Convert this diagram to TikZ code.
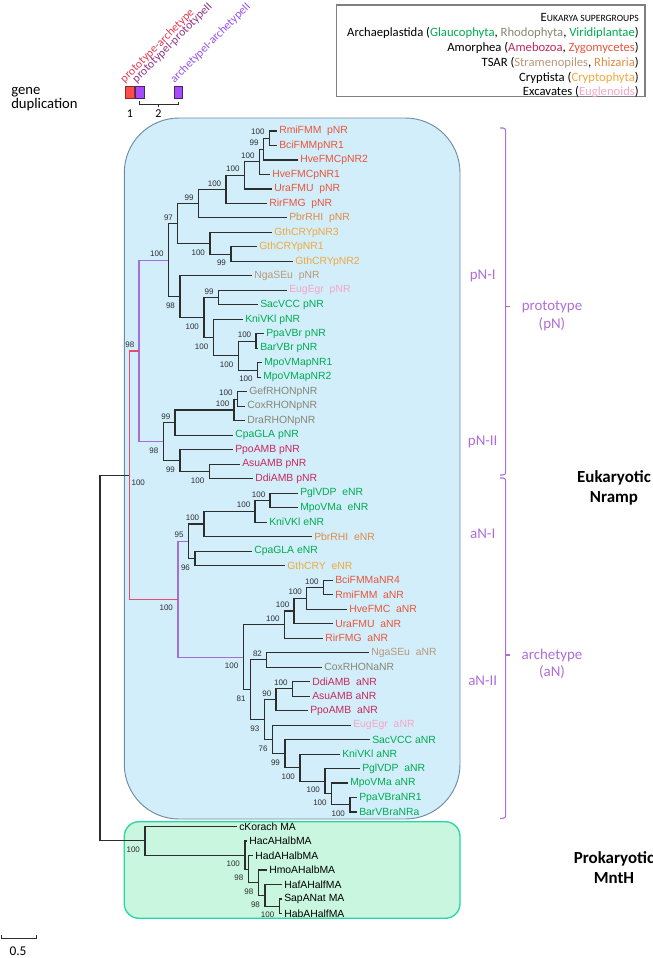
\documentclass[tikz,border=0pt]{standalone}
\usepackage{fontspec}
\setmainfont{Liberation Sans}
\newfontfamily\carl{Carlito}
\definecolor{treeline}{RGB}{45,45,45}
\definecolor{zygc}{RGB}{232,85,58}
\definecolor{rhizc}{RGB}{222,140,70}
\definecolor{crypc}{RGB}{240,168,60}
\definecolor{stramc}{RGB}{185,152,122}
\definecolor{eugc}{RGB}{245,165,200}
\definecolor{viric}{RGB}{0,170,80}
\definecolor{rhodc}{RGB}{135,135,115}
\definecolor{amoec}{RGB}{200,40,90}
\definecolor{dupred}{RGB}{232,75,105}
\definecolor{duppur}{RGB}{165,110,215}
\definecolor{brackc}{RGB}{175,110,215}
\definecolor{bluefill}{RGB}{210,238,251}
\definecolor{blueline}{RGB}{110,140,160}
\definecolor{greenfill}{RGB}{200,246,222}
\definecolor{greenline}{RGB}{40,215,165}
\definecolor{boxred}{RGB}{255,75,75}
\definecolor{boxpur}{RGB}{165,75,250}
\definecolor{txtred}{RGB}{225,60,80}
\definecolor{txtmag}{RGB}{140,50,130}
\definecolor{txtvio}{RGB}{150,80,240}
\usetikzlibrary{positioning}
\begin{document}
\begin{tikzpicture}[x=0.75pt,y=-0.75pt,
  tree/.style={draw=treeline,line width=0.8pt,line join=miter},
  elbow/.style={to path={|- (\tikztotarget)}},
  leaf/.style={anchor=west,inner sep=1.5pt,font=\fontsize{7.8}{9}\selectfont},
  bs/.style={inner sep=0pt,text=treeline,font=\fontsize{6}{7}\selectfont},
  bsa/.style={bs,anchor=south east,xshift=-3.4pt,yshift=2.3pt},
  bsb/.style={bs,anchor=north east,xshift=-3.6pt,yshift=-4.4pt},
  brk/.style={draw=brackc,line width=0.8pt,rounded corners=2pt},
  sub/.style={text=brackc,font=\carl\fontsize{11.2}{13}\selectfont},
  grp/.style={font=\carl\bfseries\fontsize{12.7}{15}\selectfont,align=center},
  leg/.style={anchor=east,inner sep=0pt,font=\carl\fontsize{9.5}{11}\selectfont},
  dupbox/.style={draw,line width=0.6pt,minimum width=6.3pt,minimum height=9.5pt,inner sep=0pt},
  duptxt/.style={rotate=45,anchor=south west,inner sep=0pt,font=\carl\fontsize{8.8}{10}\selectfont}]
  \useasboundingbox (0,0) rectangle (653,958);

  % boxes behind the tree
  \draw[fill=bluefill,draw=blueline,line width=0.7pt,rounded corners=41pt] (124.3,118) rectangle (460,819);
  \draw[fill=greenfill,draw=greenline,line width=1pt,rounded corners=11pt] (124.3,821.7) rectangle (460,918.3);

  % leaves
  \node[leaf,zygc] (l1) at (277,131.0) {RmiFMM\ \ pNR};
  \node[leaf,zygc] (l2) at (277,145.5) {BciFMMpNR1};
  \node[leaf,zygc] (l3) at (298,160.0) {HveFMCpNR2};
  \node[leaf,zygc] (l4) at (270,174.5) {HveFMCpNR1};
  \node[leaf,zygc] (l5) at (272,189.0) {UraFMU\ \ pNR};
  \node[leaf,zygc] (l6) at (267,203.5) {RirFMG\ \ pNR};
  \node[leaf,rhizc] (l7) at (287,217.9) {PbrRHI\ \ pNR};
  \node[leaf,crypc] (l8) at (272,232.4) {GthCRYpNR3};
  \node[leaf,crypc] (l9) at (257,246.9) {GthCRYpNR1};
  \node[leaf,crypc] (l10) at (293,261.4) {GthCRYpNR2};
  \node[leaf,stramc] (l11) at (252,275.9) {NgaSEu\ \ pNR};
  \node[leaf,eugc] (l12) at (287,290.4) {EugEgr\ \ pNR};
  \node[leaf,viric] (l13) at (258,304.9) {SacVCC pNR};
  \node[leaf,viric] (l14) at (243,319.4) {KniVKl pNR};
  \node[leaf,viric] (l15) at (264,333.9) {PpaVBr pNR};
  \node[leaf,viric] (l16) at (258,348.4) {BarVBr pNR};
  \node[leaf,viric] (l17) at (262,362.8) {MpoVMapNR1};
  \node[leaf,viric] (l18) at (261,377.3) {MpoVMapNR2};
  \node[leaf,rhodc] (l19) at (247,391.8) {GefRHONpNR};
  \node[leaf,rhodc] (l20) at (245,406.3) {CoxRHONpNR};
  \node[leaf,rhodc] (l21) at (245,420.8) {DraRHONpNR};
  \node[leaf,viric] (l22) at (233,435.3) {CpaGLA pNR};
  \node[leaf,amoec] (l23) at (233,449.8) {PpoAMB pNR};
  \node[leaf,amoec] (l24) at (240,464.3) {AsuAMB pNR};
  \node[leaf,amoec] (l25) at (253,478.8) {DdiAMB pNR};
  \node[leaf,viric] (l26) at (298,493.2) {PglVDP\ \ eNR};
  \node[leaf,viric] (l27) at (298,507.7) {MpoVMa\ \ eNR};
  \node[leaf,viric] (l28) at (267,522.2) {KniVKl eNR};
  \node[leaf,rhizc] (l29) at (312,536.7) {PbrRHI\ \ eNR};
  \node[leaf,viric] (l30) at (252,551.2) {CpaGLA eNR};
  \node[leaf,crypc] (l31) at (285,565.7) {GthCRY\ \ eNR};
  \node[leaf,zygc] (l32) at (333,580.2) {BciFMMaNR4};
  \node[leaf,zygc] (l33) at (333,594.7) {RmiFMM\ \ aNR};
  \node[leaf,zygc] (l34) at (347,609.2) {HveFMC\ \ aNR};
  \node[leaf,zygc] (l35) at (333,623.7) {UraFMU\ \ aNR};
  \node[leaf,zygc] (l36) at (323,638.1) {RirFMG\ \ aNR};
  \node[leaf,stramc] (l37) at (369,652.6) {NgaSEu\ \ aNR};
  \node[leaf,rhodc] (l38) at (322,667.1) {CoxRHONaNR};
  \node[leaf,amoec] (l39) at (310,681.6) {DdiAMB\ \ aNR};
  \node[leaf,amoec] (l40) at (310,696.1) {AsuAMB aNR};
  \node[leaf,amoec] (l41) at (308,710.6) {PpoAMB\ \ aNR};
  \node[leaf,eugc] (l42) at (351,725.1) {EugEgr\ \ aNR};
  \node[leaf,viric] (l43) at (370,739.6) {SacVCC aNR};
  \node[leaf,viric] (l44) at (340,754.1) {KniVKl aNR};
  \node[leaf,viric] (l45) at (360,768.6) {PglVDP\ \ aNR};
  \node[leaf,viric] (l46) at (348,783.0) {MpoVMa aNR};
  \node[leaf,viric] (l47) at (357,797.5) {PpaVBraNR1};
  \node[leaf,viric] (l48) at (357,812.0) {BarVBraNRa};
  \node[leaf] (l49) at (237,826.5) {cKorach MA};
  \node[leaf] (l50) at (247,841.0) {HacAHalbMA};
  \node[leaf] (l51) at (253,855.5) {HadAHalbMA};
  \node[leaf] (l52) at (267,870.0) {HmoAHalbMA};
  \node[leaf] (l53) at (282,884.5) {HafAHalfMA};
  \node[leaf] (l54) at (282,899.0) {SapANat MA};
  \node[leaf] (l55) at (282,913.5) {HabAHalfMA};

  % inner nodes
  \coordinate (n1) at (269.3,138.3);
  \coordinate (n2) at (263.3,149.1);
  \coordinate (n3) at (259.3,161.8);
  \coordinate (n4) at (244.3,175.4);
  \coordinate (n5) at (226,189.5);
  \coordinate (n6) at (198.3,203.7);
  \coordinate (n7) at (210,243.3);
  \coordinate (n8) at (231,254.2);
  \coordinate (n9) at (177.7,223.5);
  \coordinate (n10) at (180,296.8);
  \coordinate (n11) at (204,317.6);
  \coordinate (n12) at (218.3,297.6);
  \coordinate (n13) at (213.3,337.5);
  \coordinate (n14) at (238.3,355.6);
  \coordinate (n15) at (256,341.2);
  \coordinate (n16) at (257.7,370.1);
  \coordinate (pNI) at (168.3,260.2);
  \coordinate (n17) at (237.3,399.1);
  \coordinate (n18) at (234,410);
  \coordinate (n19) at (175,422.7);
  \coordinate (n20) at (180,460.7);
  \coordinate (n21) at (209.3,471.5);
  \coordinate (pNII) at (163.3,441.7);
  \coordinate (pN) at (139,351);
  \coordinate (n22) at (270,500.5);
  \coordinate (n23) at (255,511.4);
  \coordinate (n24) at (204,524);
  \coordinate (n25) at (195,558.5);
  \coordinate (aNI) at (188.3,541.2);
  \coordinate (n26) at (323.3,587.5);
  \coordinate (n27) at (306.7,598.3);
  \coordinate (n28) at (294,611);
  \coordinate (n29) at (284.3,624.6);
  \coordinate (n31) at (250.7,689.8);
  \coordinate (n32) at (266.7,659.9);
  \coordinate (n33) at (292.3,688.9);
  \coordinate (n34) at (276,699.8);
  \coordinate (n35) at (264.3,719.6);
  \coordinate (n36) at (272.7,739.4);
  \coordinate (n37) at (285,753.6);
  \coordinate (n38) at (300,767.7);
  \coordinate (n39) at (325,781.2);
  \coordinate (n40) at (331.7,793.9);
  \coordinate (n41) at (350,804.8);
  \coordinate (aNII) at (243.3,657.2);
  \coordinate (aN) at (178,599.2);
  \coordinate (euk) at (129.3,475.1);
  \coordinate (n42) at (245,855.05);
  \coordinate (n43) at (248.3,869.1);
  \coordinate (n44) at (258.3,882.7);
  \coordinate (n45) at (265,895.4);
  \coordinate (n46) at (279.3,906.25);
  \coordinate (prok) at (145,840.8);
  \coordinate (root) at (100,658);

  % branches
  \draw[tree]
    (n1) edge[elbow] (l1.west) edge[elbow] (l2.west)
    (n2) edge[elbow] (n1) edge[elbow] (l3.west)
    (n3) edge[elbow] (n2) edge[elbow] (l4.west)
    (n4) edge[elbow] (n3) edge[elbow] (l5.west)
    (n5) edge[elbow] (n4) edge[elbow] (l6.west)
    (n6) edge[elbow] (n5) edge[elbow] (l7.west)
    (n8) edge[elbow] (l9.west) edge[elbow] (l10.west)
    (n7) edge[elbow] (l8.west) edge[elbow] (n8)
    (n9) edge[elbow] (n6) edge[elbow] (n7)
    (n12) edge[elbow] (l12.west) edge[elbow] (l13.west)
    (n15) edge[elbow] (l15.west) edge[elbow] (l16.west)
    (n16) edge[elbow] (l17.west) edge[elbow] (l18.west)
    (n14) edge[elbow] (n15) edge[elbow] (n16)
    (n13) edge[elbow] (l14.west) edge[elbow] (n14)
    (n11) edge[elbow] (n12) edge[elbow] (n13)
    (n10) edge[elbow] (l11.west) edge[elbow] (n11)
    (pNI) edge[elbow] (n9) edge[elbow] (n10)
    (n17) edge[elbow] (l19.west) edge[elbow] (l20.west)
    (n18) edge[elbow] (n17) edge[elbow] (l21.west)
    (n19) edge[elbow] (n18) edge[elbow] (l22.west)
    (n21) edge[elbow] (l24.west) edge[elbow] (l25.west)
    (n20) edge[elbow] (l23.west) edge[elbow] (n21)
    (pNII) edge[elbow] (n19) edge[elbow] (n20)
    (n22) edge[elbow] (l26.west) edge[elbow] (l27.west)
    (n23) edge[elbow] (n22) edge[elbow] (l28.west)
    (n24) edge[elbow] (n23) edge[elbow] (l29.west)
    (n25) edge[elbow] (l30.west) edge[elbow] (l31.west)
    (aNI) edge[elbow] (n24) edge[elbow] (n25)
    (n26) edge[elbow] (l32.west) edge[elbow] (l33.west)
    (n27) edge[elbow] (n26) edge[elbow] (l34.west)
    (n28) edge[elbow] (n27) edge[elbow] (l35.west)
    (n29) edge[elbow] (n28) edge[elbow] (l36.west)
    (n32) edge[elbow] (l37.west) edge[elbow] (l38.west)
    (n33) edge[elbow] (l39.west) edge[elbow] (l40.west)
    (n34) edge[elbow] (n33) edge[elbow] (l41.west)
    (n41) edge[elbow] (l47.west) edge[elbow] (l48.west)
    (n40) edge[elbow] (l46.west) edge[elbow] (n41)
    (n39) edge[elbow] (l45.west) edge[elbow] (n40)
    (n38) edge[elbow] (l44.west) edge[elbow] (n39)
    (n37) edge[elbow] (l43.west) edge[elbow] (n38)
    (n36) edge[elbow] (l42.west) edge[elbow] (n37)
    (n35) edge[elbow] (n34) edge[elbow] (n36)
    (n31) edge[elbow] (n32) edge[elbow] (n35)
    (aNII) edge[elbow] (n29) edge[elbow] (n31)
    (n46) edge[elbow] (l54.west) edge[elbow] (l55.west)
    (n45) edge[elbow] (l53.west) edge[elbow] (n46)
    (n44) edge[elbow] (l52.west) edge[elbow] (n45)
    (n43) edge[elbow] (l51.west) edge[elbow] (n44)
    (n42) edge[elbow] (l50.west) edge[elbow] (n43)
    (prok) edge[elbow] (l49.west) edge[elbow] (n42)
    (root) edge[elbow] (euk) edge[elbow] (prok);
  \draw[tree,draw=duppur]
    (pN) edge[elbow] (pNI) edge[elbow] (pNII)
    (aN) edge[elbow] (aNI) edge[elbow] (aNII);
  \draw[tree,draw=dupred]
    (euk) edge[elbow] (pN) edge[elbow] (aN);

  % bootstrap values
  \node[bsa] (b1) at (n1) {100};
  \node[bsa] (b2) at (n2) {99};
  \node[bsa] (b3) at (n3) {100};
  \node[bsa] (b4) at (n4) {100};
  \node[bsa] (b5) at (n5) {100};
  \node[bsa] (b6) at (n6) {99};
  \node[bsb] (b7) at (n7) {100};
  \node[bsb] (b8) at (n8) {99};
  \node[bsa] (b9) at (n9) {97};
  \node[bsb] (b10) at (n10) {98};
  \node[bsb] (b11) at (n11) {100};
  \node[bsa] (b12) at (n12) {99};
  \node[bsb] (b13) at (n13) {100};
  \node[bsb] (b14) at (n14) {100};
  \node[bsa] (b15) at (n15) {100};
  \node[bsb] (b16) at (n16) {100};
  \node[bsa] (bpNI) at (pNI) {100};
  \node[bsa] (b17) at (n17) {100};
  \node[bsa] (b18) at (n18) {100};
  \node[bsa] (b19) at (n19) {99};
  \node[bsb] (b20) at (n20) {99};
  \node[bsb] (b21) at (n21) {100};
  \node[bsb] (bpNII) at (pNII) {98};
  \node[bsa] (bpN) at (pN) {98};
  \node[bsa] (b22) at (n22) {100};
  \node[bsa] (b23) at (n23) {100};
  \node[bsa] (b24) at (n24) {100};
  \node[bsb] (b25) at (n25) {96};
  \node[bsa] (baNI) at (aNI) {95};
  \node[bsa] (b26) at (n26) {100};
  \node[bsa] (b27) at (n27) {100};
  \node[bsa] (b28) at (n28) {100};
  \node[bsa] (b29) at (n29) {100};
  \node[bsb] (b31) at (n31) {81};
  \node[bsa] (b32) at (n32) {82};
  \node[bsa] (b33) at (n33) {100};
  \node[bsa] (b34) at (n34) {90};
  \node[bsb] (b35) at (n35) {93};
  \node[bsb] (b36) at (n36) {76};
  \node[bsb] (b37) at (n37) {99};
  \node[bsb] (b38) at (n38) {100};
  \node[bsb] (b39) at (n39) {100};
  \node[bsb] (b40) at (n40) {100};
  \node[bsb] (b41) at (n41) {100};
  \node[bsb] (baNII) at (aNII) {100};
  \node[bsb] (baN) at (aN) {100};
  \node[bs,anchor=north west,xshift=1.5pt,yshift=-3.5pt] (beuk) at (euk) {100};
  \node[bsb] (b42) at (n42) {100};
  \node[bsb] (b43) at (n43) {98};
  \node[bsb] (b44) at (n44) {98};
  \node[bsb] (b45) at (n45) {98};
  \node[bsb] (b46) at (n46) {100};
  \node[bsb] (bprok) at (prok) {100};

  % clade brackets
  \draw[brk] (500,128) -- (505.7,128) -- (505.7,475) -- (500,475);
  \draw[brk] (505.7,306.7) -- (510,306.7);
  \draw[brk] (500,478) -- (505.7,478) -- (505.7,818.3) -- (500,818.3);
  \draw[brk] (505.7,655) -- (510,655);
  \node[sub] (pNIlab) at (482.7,275.7) {pN-I};
  \node[sub] (pNIIlab) at (482.7,441.7) {pN-II};
  \node[sub] (aNIlab) at (482.7,534) {aN-I};
  \node[sub] (aNIIlab) at (482.7,681) {aN-II};
  \node[sub,align=center] (protolab) at (552,316) {prototype\\(pN)};
  \node[sub,align=center] (archelab) at (552,664) {archetype\\(aN)};
  \node[grp] (eukgrp) at (614,488) {Eukaryotic\\Nramp};
  \node[grp] (progrp) at (614,868) {Prokaryotic\\MntH};

  % legend
  \draw[draw=gray,line width=0.8pt] (336.7,5) rectangle (645,96.7);
  \node[leg] (leghead) at (639,17.3) {E{\fontsize{7.2}{9}\selectfont UKARYA SUPERGROUPS}};
  \node[leg] (leg1) at (639,33.3) {Archaeplastida ({\color{viric}Glaucophyta}, {\color{rhodc}Rhodophyta}, {\color{viric}Viridiplantae})};
  \node[leg] (leg2) at (639,48.3) {Amorphea ({\color{amoec}Amebozoa}, {\color{zygc}Zygomycetes})};
  \node[leg] (leg3) at (639,63.3) {TSAR ({\color{stramc}Stramenopiles}, {\color{rhizc}Rhizaria})};
  \node[leg] (leg4) at (639,78.3) {Cryptista ({\color{crypc}Cryptophyta})};
  \node[leg] (leg5) at (639,92) {Excavates ({\color{eugc}Euglenoids})};

  % gene duplication
  \node[anchor=north west,align=left,inner sep=0pt,font=\carl\fontsize{11}{10.5}\selectfont] (genedup) at (11,87) {gene\\duplication};
  \node[dupbox,fill=boxred,draw=boxred!55!black] (d1) at (130,92.5) {};
  \node[dupbox,fill=boxpur,draw=boxpur!45!black] (d2) at (139.7,92.5) {};
  \node[dupbox,fill=boxpur,draw=boxpur!45!black] (d3) at (178.4,92.5) {};
  \node[duptxt,txtred] (t1) at (126,85) {prototype-archetype};
  \node[duptxt,txtmag] (t2) at (138,85) {prototypeI-prototypeII};
  \node[duptxt,txtvio] (t3) at (176,85) {archetypeI-archetypeII};
  \draw[treeline,line width=0.6pt] (d2.south) ++(0,2) -- ++(0,3) -| ([yshift=-2pt]d3.south);
  \draw[treeline,line width=0.6pt] (158.5,104.5) -- (158.5,107);
  \node[font=\carl\fontsize{9}{10}\selectfont,inner sep=0pt] (one) at (130,114) {1};
  \node[font=\carl\fontsize{9}{10}\selectfont,inner sep=0pt] (two) at (158.5,114) {2};

  % scale bar
  \coordinate (s1) at (1.7,938.3);
  \coordinate (s2) at (36.7,938.3);
  \draw[treeline,line width=0.7pt] ([yshift=2.5pt]s1) -- (s1) -- (s2) -- ([yshift=2.5pt]s2);
  \node[font=\carl\fontsize{10}{12}\selectfont] (sbar) at (18,951.7) {0.5};
\end{tikzpicture}
\end{document}
